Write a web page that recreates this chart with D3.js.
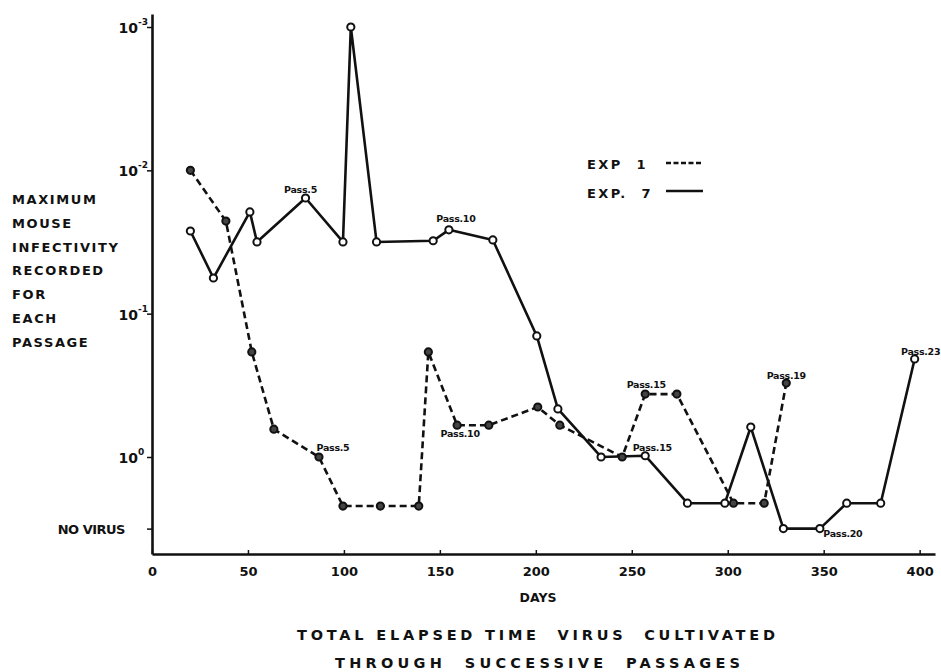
<!DOCTYPE html>
<html lang="en">
<head>
<meta charset="UTF-8" />
<title>Maximum mouse infectivity per passage</title>
<script src="https://cdn.jsdelivr.net/npm/d3@7"></script>
<style>
  body { margin: 0; background: #fff; }
  svg text { font-family: 'DejaVu Sans', sans-serif; fill: #111; }
</style>
</head>
<body>
<svg width="941" height="672"></svg>
<script>
// days of cultivation at each passage
var exp1Days = [20, 38.5, 52, 63.5, 87, 99.5, 119, 139, 144, 159, 175.5, 201, 212.5, 245, 257, 273.5, 303, 319, 330.5]
// highest infective dilution recorded (log axis, 10^-3 at the top)
var exp1Values = [0.01, 0.0226, 0.185, 0.64, 1, 2.2, 2.2, 2.2, 0.185, 0.6, 0.6, 0.448, 0.6, 1, 0.364, 0.364, 2.1, 2.1, 0.305]

var exp7Days = [20, 32, 51, 54.7, 80, 99.5, 103.6, 117, 146.5, 154.7, 177.6, 200.5, 211.5, 234, 257, 279, 298.5, 312, 329, 348, 362, 379.7, 397.4]
var exp7Values = [0.0265, 0.0564, 0.0195, 0.0316, 0.0156, 0.0316, 0.001, 0.0316, 0.031, 0.026, 0.0306, 0.143, 0.462, 1, 0.98, 2.1, 2.1, 0.618, 3.16, 3.16, 2.1, 2.1, 0.207]

// "no virus" sits half a decade below 10^0
var noVirus = 3.16
var yTickValues = [0.001, 0.01, 0.1, 1]
var yTickExps = ['-3', '-2', '-1', '0']
var xTickValues = [0, 50, 100, 150, 200, 250, 300, 350, 400]

// passage labels: series, point index, text
var passLabels = [
  ['exp7', 4, 'Pass.5'],
  ['exp1', 4, 'Pass.5'],
  ['exp7', 9, 'Pass.10'],
  ['exp1', 9, 'Pass.10'],
  ['exp1', 14, 'Pass.15'],
  ['exp7', 14, 'Pass.15'],
  ['exp1', 18, 'Pass.19'],
  ['exp7', 19, 'Pass.20'],
  ['exp7', 22, 'Pass.23']
]
var labelOffsets = [[-5, -5], [14, -6], [7, -8], [3, 12], [1, -6], [7, -5], [0, -4], [23, 8], [6, -4]]

var svg = d3.select('svg')

var x = d3.scaleLinear().domain([0, 408]).range([152, 935])
var y = d3.scaleLog().domain([Math.pow(10, -3.0907), Math.pow(10, 0.6768)]).range([14, 554])

var series = {
  exp1: exp1Days.map(function(d, i) { return [d, exp1Values[i]] }),
  exp7: exp7Days.map(function(d, i) { return [d, exp7Values[i]] })
}

// axes
var xAxis = svg.append('g')
  .attr('transform', 'translate(0,554)')
  .call(d3.axisBottom(x).tickValues(xTickValues).tickSize(-4).tickSizeOuter(0).tickPadding(13))
xAxis.select('.domain').attr('stroke', '#111').attr('stroke-width', 2.6)
xAxis.selectAll('.tick line').attr('stroke', '#111').attr('stroke-width', 1.5)
xAxis.selectAll('.tick text').attr('font-size', 13).attr('font-weight', 'bold').attr('fill', '#111')

var yAxis = svg.append('g')
  .attr('transform', 'translate(152,0)')
  .call(d3.axisLeft(y).tickValues(yTickValues.concat([noVirus])).tickSize(5).tickSizeOuter(0).tickFormat(''))
yAxis.select('.domain').attr('stroke', '#111').attr('stroke-width', 2.6)
yAxis.selectAll('.tick line').attr('stroke', '#111').attr('stroke-width', 1.5)

yTickValues.forEach(function(v, i) {
  svg.append('text')
    .attr('x', 138)
    .attr('y', y(v) + 6)
    .attr('text-anchor', 'end')
    .attr('font-size', 14)
    .attr('font-weight', 'bold')
    .text('10')
  svg.append('text')
    .attr('x', 138)
    .attr('y', y(v) - 2)
    .attr('font-size', 9)
    .attr('font-weight', 'bold')
    .text(yTickExps[i])
})

svg.append('text')
  .attr('x', 125)
  .attr('y', y(noVirus) + 5)
  .attr('text-anchor', 'end')
  .attr('font-size', 13)
  .attr('font-weight', 'bold')
  .attr('letter-spacing', -0.5)
  .text('NO VIRUS')

// y title
var yTitle = ['MAXIMUM', 'MOUSE', 'INFECTIVITY', 'RECORDED', 'FOR', 'EACH', 'PASSAGE']
yTitle.forEach(function(s, i) {
  svg.append('text')
    .attr('x', 12)
    .attr('y', 204 + i * 23.8)
    .attr('font-size', 13)
    .attr('font-weight', 'bold')
    .attr('letter-spacing', 1.6)
    .text(s)
})

// x titles
svg.append('text').attr('x', 538).attr('y', 602).attr('text-anchor', 'middle')
  .attr('font-size', 12.5).attr('font-weight', 'bold').text('DAYS')
svg.append('text').attr('x', 297).attr('y', 640)
  .attr('font-size', 14.5).attr('font-weight', 'bold')
  .attr('textLength', 478).attr('lengthAdjust', 'spacing')
  .style('white-space', 'pre')
  .text('TOTAL ELAPSED TIME  VIRUS  CULTIVATED')
svg.append('text').attr('x', 335).attr('y', 668)
  .attr('font-size', 14.5).attr('font-weight', 'bold')
  .attr('textLength', 405).attr('lengthAdjust', 'spacing')
  .style('white-space', 'pre')
  .text('THROUGH  SUCCESSIVE  PASSAGES')

// lines
var line = d3.line().x(function(d) { return x(d[0]) }).y(function(d) { return y(d[1]) })

svg.append('path')
  .datum(series.exp1)
  .attr('d', line)
  .attr('fill', 'none')
  .attr('stroke', '#111')
  .attr('stroke-width', 2.6)
  .attr('stroke-dasharray', '7,4')

svg.append('path')
  .datum(series.exp7)
  .attr('d', line)
  .attr('fill', 'none')
  .attr('stroke', '#111')
  .attr('stroke-width', 2.6)
  .attr('stroke-linejoin', 'round')

// markers
;['exp1', 'exp7'].forEach(function(k) {
  svg.append('g').selectAll('circle')
    .data(series[k])
    .enter()
    .append('circle')
    .attr('cx', function(d) { return x(d[0]) })
    .attr('cy', function(d) { return y(d[1]) })
    .attr('r', 3.6)
    .attr('fill', k === 'exp1' ? '#444' : '#fff')
    .attr('stroke', '#111')
    .attr('stroke-width', 2)
})

// passage labels
passLabels.forEach(function(p, i) {
  var d = series[p[0]][p[1]]
  svg.append('text')
    .attr('x', x(d[0]) + labelOffsets[i][0])
    .attr('y', y(d[1]) + labelOffsets[i][1])
    .attr('text-anchor', 'middle')
    .attr('font-family', "'DejaVu Sans Condensed', 'DejaVu Sans', sans-serif")
    .attr('font-size', 9.5)
    .attr('font-weight', 'bold')
    .attr('letter-spacing', -0.3)
    .text(p[2])
})

// legend
var legend = svg.append('g')
legend.append('text').attr('x', 587).attr('y', 169).attr('font-size', 13).attr('font-weight', 'bold')
  .attr('letter-spacing', 2.4).style('white-space', 'pre').text('EXP  1')
legend.append('text').attr('x', 587).attr('y', 198).attr('font-size', 13).attr('font-weight', 'bold')
  .attr('letter-spacing', 2.4).style('white-space', 'pre').text('EXP.  7')
legend.append('line').attr('x1', 666).attr('x2', 703).attr('y1', 163).attr('y2', 163)
  .attr('stroke', '#111').attr('stroke-width', 2.4).attr('stroke-dasharray', '5,2.5')
legend.append('line').attr('x1', 666).attr('x2', 703).attr('y1', 191).attr('y2', 191)
  .attr('stroke', '#111').attr('stroke-width', 2.6)
</script>
</body>
</html>
